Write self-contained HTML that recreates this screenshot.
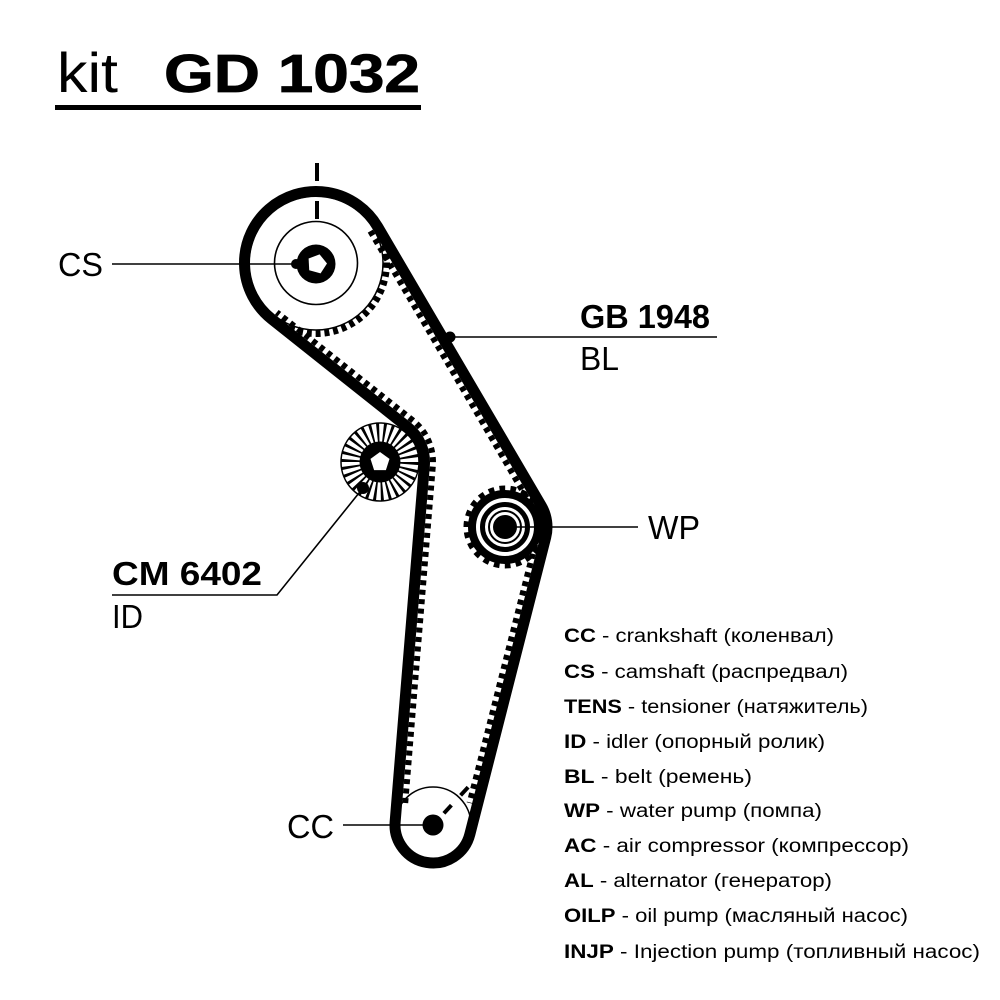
<!DOCTYPE html>
<html>
<head>
<meta charset="utf-8">
<style>
  html,body{margin:0;padding:0;background:#fff;}
  svg{display:block;}
  text{font-family:"Liberation Sans","Noto Sans CJK SC",sans-serif;fill:#000;}
</style>
</head>
<body>
<svg width="1000" height="1000" viewBox="0 0 1000 1000" xmlns="http://www.w3.org/2000/svg">
  <rect width="1000" height="1000" fill="#fff"/>

  <!-- Title -->
  <text x="57" y="92" font-size="56" textLength="61" lengthAdjust="spacingAndGlyphs">kit</text>
  <text x="164" y="92" font-size="54" font-weight="bold" textLength="256" lengthAdjust="spacingAndGlyphs" stroke="#000" stroke-width="0.8">GD 1032</text>
  <rect x="55" y="105" width="366" height="5" fill="#000"/>

  <!-- CS pulley -->
  <circle cx="316" cy="263" r="67" fill="none" stroke="#000" stroke-width="1.5"/>
  <circle cx="316" cy="263" r="70.5" fill="none" stroke="#000" stroke-width="7" pathLength="360" stroke-dasharray="4 3.2"/>
  <circle cx="316" cy="263" r="41.5" fill="none" stroke="#000" stroke-width="1.6"/>
  <circle cx="316" cy="264" r="19.5" fill="#000"/>
  <polygon points="319.59,254.34 326.99,263.48 320.58,273.34 309.23,270.29 308.61,258.55" fill="#fff"/>
  <rect x="315" y="163" width="4" height="18" fill="#000"/>
  <rect x="315" y="201" width="4" height="18" fill="#000"/>

  <!-- WP pulley -->
  <circle cx="505" cy="527" r="39" fill="none" stroke="#000" stroke-width="5" pathLength="360" stroke-dasharray="8.5 7.86"/>
  <circle cx="505" cy="527" r="33" fill="none" stroke="#000" stroke-width="8"/>
  <circle cx="505" cy="527" r="22.5" fill="none" stroke="#000" stroke-width="5"/>
  <circle cx="505" cy="527" r="16" fill="none" stroke="#000" stroke-width="2"/>
  <circle cx="505" cy="527" r="12" fill="#000"/>

  <!-- CC pulley -->
  <circle cx="433" cy="825" r="38" fill="none" stroke="#000" stroke-width="1.6"/>
  <circle cx="433" cy="825" r="10.5" fill="#000"/>
  <line x1="443.9" y1="813.3" x2="451.4" y2="805.2" stroke="#000" stroke-width="4"/>
  <line x1="460.6" y1="795.3" x2="468.1" y2="787.2" stroke="#000" stroke-width="4"/>

  <!-- Idler -->
  <circle cx="380" cy="462" r="29.5" fill="none" stroke="#000" stroke-width="19" pathLength="360" stroke-dasharray="4.6 7.4"/>
  <circle cx="380" cy="462" r="39" fill="none" stroke="#000" stroke-width="1.5"/>
  <circle cx="380" cy="462" r="20.5" fill="#000"/>
  <polygon points="380,452 389.5,458.9 385.9,470.1 374.1,470.1 370.5,458.9" fill="#fff"/>

  <!-- Belt teeth -->
  <g fill="none" stroke="#000" stroke-width="6" stroke-dasharray="5 4.5">
    <path d="M 370.35 231.13 L 533.9 510.06"/>
    <path d="M 537.45 535.3 L 469.6 803"/>
    <path d="M 405.2 803 L 432.8 466.33 A 53 53 0 0 0 412.97 420.5 L 276.8 312.3"/>
  </g>

  <!-- Belt band -->
  <path d="M 271.52 318.98 A 71.5 71.5 0 1 1 377.68 226.83 L 541.23 505.76 A 42 42 0 0 1 545.69 537.40 L 469.82 834.41 A 38 38 0 0 1 395.13 821.89 L 424.35 465.64 A 44.5 44.5 0 0 0 407.68 427.16 Z" fill="none" stroke="#000" stroke-width="11" stroke-linejoin="round"/>

  <!-- Leaders -->
  <g stroke="#000" stroke-width="1.6" fill="none">
    <line x1="112" y1="264" x2="296" y2="264"/>
    <line x1="450" y1="337" x2="717" y2="337"/>
    <line x1="505" y1="527" x2="638" y2="527"/>
    <polyline points="363,488 277,595 112,595"/>
    <line x1="343" y1="825" x2="433" y2="825"/>
  </g>
  <circle cx="296" cy="264" r="5" fill="#000"/>
  <circle cx="450" cy="337" r="5.5" fill="#000"/>
  <circle cx="363" cy="488" r="6" fill="#000"/>

  <!-- Labels -->
  <text x="58" y="276" font-size="33" textLength="45" lengthAdjust="spacingAndGlyphs">CS</text>
  <text x="580" y="328" font-size="33" font-weight="bold" textLength="130" lengthAdjust="spacingAndGlyphs">GB 1948</text>
  <text x="580" y="370" font-size="33" textLength="39" lengthAdjust="spacingAndGlyphs">BL</text>
  <text x="648" y="539" font-size="33" textLength="52" lengthAdjust="spacingAndGlyphs">WP</text>
  <text x="112" y="585" font-size="33" font-weight="bold" textLength="150" lengthAdjust="spacingAndGlyphs">CM 6402</text>
  <text x="112" y="628" font-size="33" textLength="31" lengthAdjust="spacingAndGlyphs">ID</text>
  <text x="287" y="838" font-size="33" textLength="47" lengthAdjust="spacingAndGlyphs">CC</text>

  <!-- Legend -->
  <g font-size="19">
    <text x="564" y="642" textLength="270" lengthAdjust="spacingAndGlyphs"><tspan font-weight="bold">CC</tspan> - crankshaft (коленвал)</text>
    <text x="564" y="678" textLength="284" lengthAdjust="spacingAndGlyphs"><tspan font-weight="bold">CS</tspan> - camshaft (распредвал)</text>
    <text x="564" y="713" textLength="304" lengthAdjust="spacingAndGlyphs"><tspan font-weight="bold">TENS</tspan> - tensioner (натяжитель)</text>
    <text x="564" y="748" textLength="261" lengthAdjust="spacingAndGlyphs"><tspan font-weight="bold">ID</tspan> - idler (опорный ролик)</text>
    <text x="564" y="783" textLength="188" lengthAdjust="spacingAndGlyphs"><tspan font-weight="bold">BL</tspan> - belt (ремень)</text>
    <text x="564" y="817" textLength="258" lengthAdjust="spacingAndGlyphs"><tspan font-weight="bold">WP</tspan> - water pump (помпа)</text>
    <text x="564" y="852" textLength="345" lengthAdjust="spacingAndGlyphs"><tspan font-weight="bold">AC</tspan> - air compressor (компрессор)</text>
    <text x="564" y="887" textLength="268" lengthAdjust="spacingAndGlyphs"><tspan font-weight="bold">AL</tspan> - alternator (генератор)</text>
    <text x="564" y="922" textLength="344" lengthAdjust="spacingAndGlyphs"><tspan font-weight="bold">OILP</tspan> - oil pump (масляный насос)</text>
    <text x="564" y="958" textLength="416" lengthAdjust="spacingAndGlyphs"><tspan font-weight="bold">INJP</tspan> - Injection pump (топливный насос)</text>
  </g>
</svg>
</body>
</html>
